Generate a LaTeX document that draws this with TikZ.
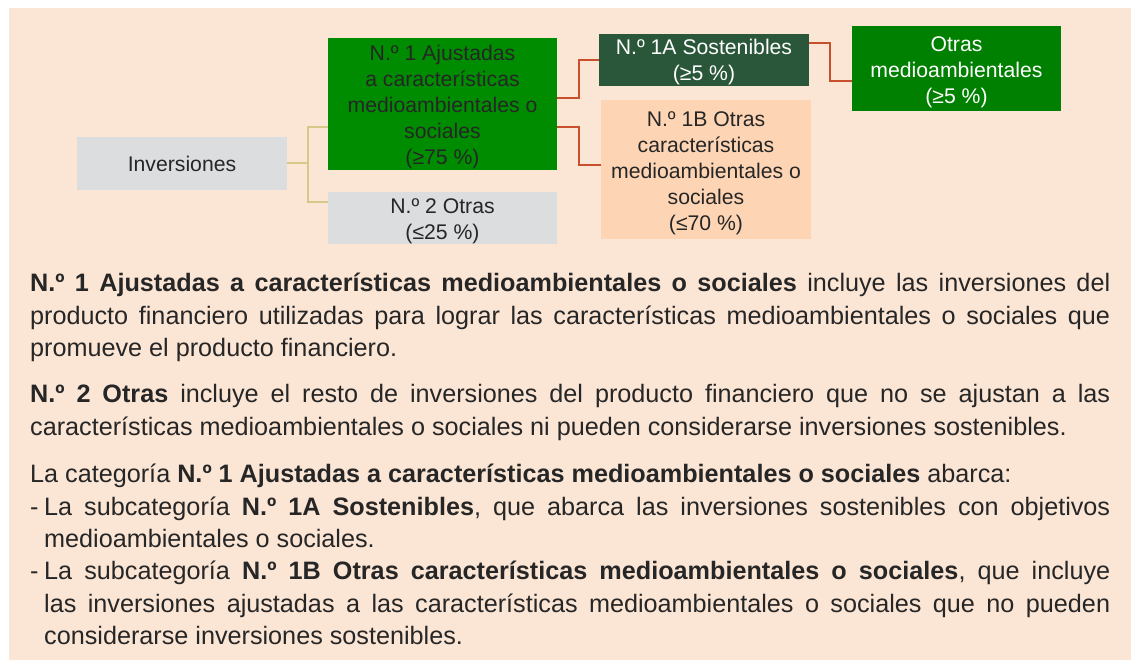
\documentclass[tikz,border=0pt]{standalone}
\usepackage{fontspec}
\setmainfont{Liberation Sans}
\definecolor{bgc}{HTML}{FBE5D5}
\definecolor{txt}{HTML}{262626}
\definecolor{grayb}{HTML}{DCDDDF}
\definecolor{greenb}{HTML}{008C00}
\definecolor{darkg}{HTML}{2A573A}
\definecolor{peach}{HTML}{FDD5B4}
\definecolor{greenc}{HTML}{008000}
\definecolor{olivel}{HTML}{D5C98A}
\definecolor{redl}{HTML}{C8502D}
\newcommand\jline[1]{\hbox to 1080pt{#1}}
\newcommand\nline[1]{\hbox{#1}}
\newcommand\mydash{\hbox to 14pt{-\hss}}
\newcommand\tstrut{\rule{0pt}{21.5pt}}
\tikzset{
  dbox/.style={rectangle, inner sep=0pt, align=center, text=txt,
    font=\fontsize{21.2}{26}\selectfont},
  para/.style={anchor=north west, inner sep=0pt, text=txt,
    font=\fontsize{25.2}{32.4}\selectfont\frenchspacing},
  oline/.style={draw=olivel, line width=2pt},
  rline/.style={draw=redl, line width=2pt}
}
\begin{document}
\begin{tikzpicture}[x=1pt,y=-1pt]
\useasboundingbox (0,0) rectangle (1131,660);
\fill[bgc] (9,8) rectangle (1131,660);

\node[dbox, fill=grayb, minimum width=210pt, minimum height=53pt] (inv) at (182,163.5) {Inversiones};
\node[dbox, fill=greenb, minimum width=229pt, minimum height=132pt] (n1) at (442.5,104)
  {\tstrut N.º 1 Ajustadas\\a características\\medioambientales o\\sociales\\(≥75~\%)};
\node[dbox, fill=grayb, minimum width=229pt, minimum height=52pt] (n2) at (442.5,218)
  {\tstrut N.º 2 Otras\\(≤25~\%)};
\node[dbox, fill=darkg, text=white, minimum width=210pt, minimum height=52pt] (n1a) at (704,60)
  {\rule{0pt}{20pt}N.º 1A Sostenibles\\(≥5~\%)};
\node[dbox, fill=peach, minimum width=210pt, minimum height=139pt] (n1b) at (706,169.5)
  {\tstrut N.º 1B Otras\\características\\medioambientales o\\sociales\\(≤70~\%)};
\node[dbox, fill=greenc, text=white, minimum width=209pt, minimum height=85pt] (otr) at (956.5,68.5)
  {\rule{0pt}{22.5pt}Otras\\medioambientales\\(≥5~\%)};

\draw[oline] (inv.east) -- ++(21,0);
\draw[oline] ([yshift=-23pt]n1.west) -- ++(-20,0) |- ([yshift=16pt]n2.west);
\draw[rline] ([yshift=6pt]n1.east) -- ++(22,0) |- (n1a.west);
\draw[rline] ([yshift=-23pt]n1.east) -- ++(22,0) |- ([yshift=4.5pt]n1b.west);
\draw[rline] ([yshift=17pt]n1a.east) -- ++(21,0) |- ([yshift=-12.5pt]otr.west);

\node[para] (p1) at (30,271.5) {\vbox{%
\jline{\rule{0pt}{20pt}\textbf{N.º 1 Ajustadas a características medioambientales o sociales} incluye las inversiones del}
\jline{producto financiero utilizadas para lograr las características medioambientales o sociales que}
\nline{promueve el producto financiero.}}};

\node[para] (p2) at (30,382.5) {\vbox{%
\jline{\rule{0pt}{20pt}\textbf{N.º 2 Otras} incluye el resto de inversiones del producto financiero que no se ajustan a las}
\nline{características medioambientales o sociales ni pueden considerarse inversiones sostenibles.}}};

\node[para] (p3) at (30,462.5) {\vbox{%
\nline{\rule{0pt}{20pt}La categoría \textbf{N.º 1 Ajustadas a características medioambientales o sociales} abarca:}
\jline{\mydash La subcategoría \textbf{N.º 1A Sostenibles}, que abarca las inversiones sostenibles con objetivos}
\nline{\hskip14pt medioambientales o sociales.}
\jline{\mydash La subcategoría \textbf{N.º 1B Otras características medioambientales o sociales}, que incluye}
\jline{\hskip14pt las inversiones ajustadas a las características medioambientales o sociales que no pueden}
\nline{\hskip14pt considerarse inversiones sostenibles.}}};
\end{tikzpicture}
\end{document}
